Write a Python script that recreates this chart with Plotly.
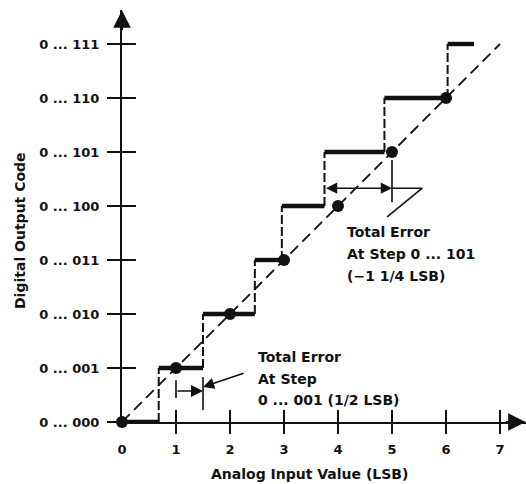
import plotly.graph_objects as go

# Output codes on the vertical axis
codes = [0, 1, 2, 3, 4, 5, 6, 7]
code_labels = ["0 ... 000", "0 ... 001", "0 ... 010", "0 ... 011",
               "0 ... 100", "0 ... 101", "0 ... 110", "0 ... 111"]

# Analog input ticks (LSB)
input_ticks = [0, 1, 2, 3, 4, 5, 6, 7]
input_labels = ["0", "1", "2", "3", "4", "5", "6", "7"]

# Actual code transitions (LSB): code k -> k + 1
transitions = [0.68, 1.5, 2.46, 2.96, 3.75, 4.86, 6.03]
last_code_end = 6.52

# Ideal transfer line and ideal code centres
ideal_x = [0, 7]
ideal_y = [0, 7]
centre_x = [0, 1, 2, 3, 4, 5, 6]
centre_y = [0, 1, 2, 3, 4, 5, 6]

# Total error at the two annotated steps (LSB)
err_step1 = 0.5     # step 0 ... 001
err_step5 = -1.25   # step 0 ... 101

INK = "#111111"
FONT = "DejaVu Sans"

# Figure geometry: 54 px per LSB on both axes
W, H = 526, 484
L, R, T, B = 122, 0, 10, 62
PX = 54.0
PLOT_W = W - L - R
PLOT_H = H - T - B
x_max = PLOT_W / PX
y_max = PLOT_H / PX

# Staircase: thick code levels and dashed risers
starts = [0] + transitions
ends = transitions + [last_code_end]
hx, hy = [], []
for k, (s, e) in enumerate(zip(starts, ends)):
    hx += [s, e, None]
    hy += [codes[k], codes[k], None]
vx, vy = [], []
for k, t in enumerate(transitions):
    vx += [t, t, None]
    vy += [codes[k], codes[k + 1], None]

fig = go.Figure()

fig.add_trace(go.Scatter(
    x=ideal_x, y=ideal_y, mode="lines",
    line=dict(color=INK, width=1.8, dash="11px,6px"),
    cliponaxis=False, hoverinfo="skip", showlegend=False))

fig.add_trace(go.Scatter(
    x=vx, y=vy, mode="lines",
    line=dict(color=INK, width=2, dash="9px,3px"),
    cliponaxis=False, hoverinfo="skip", showlegend=False))

fig.add_trace(go.Scatter(
    x=hx, y=hy, mode="lines",
    line=dict(color=INK, width=4.4),
    cliponaxis=False, hoverinfo="skip", showlegend=False))

fig.add_trace(go.Scatter(
    x=centre_x, y=centre_y, mode="markers",
    marker=dict(color=INK, size=12, line=dict(width=0)),
    cliponaxis=False, hoverinfo="skip", showlegend=False))

# Error marker at step 0 ... 001: from the code centre to the transition
e1_lo, e1_hi = centre_x[1], centre_x[1] + err_step1
e1_y = 0.574
mx = [e1_lo, e1_lo, None, e1_hi, e1_hi, None]
my = [e1_y - 0.13, e1_y + 0.2, None, e1_y - 0.35, e1_y + 0.26, None]

# Error marker at step 0 ... 101: from the transition to the code centre
e5_hi = centre_x[5]
e5_lo = centre_x[5] + err_step5
e5_y = 4.33
mx += [e5_hi, e5_hi, None, e5_hi, e5_hi + 0.56, e5_hi - 0.09]
my += [e5_y - 0.26, e5_y + 0.52, None, e5_y, e5_y, e5_y - 0.53]

fig.add_trace(go.Scatter(
    x=mx, y=my, mode="lines",
    line=dict(color=INK, width=1.6),
    cliponaxis=False, hoverinfo="skip", showlegend=False))

# Dummy traces that carry the overlay tick axes
fig.add_trace(go.Scatter(x=ideal_x, y=ideal_y, xaxis="x2", mode="lines",
                         line=dict(width=0), hoverinfo="skip", showlegend=False))
fig.add_trace(go.Scatter(x=ideal_x, y=ideal_y, xaxis="x3", mode="lines",
                         line=dict(width=0), hoverinfo="skip", showlegend=False))
fig.add_trace(go.Scatter(x=ideal_x, y=ideal_y, yaxis="y2", mode="lines",
                         line=dict(width=0), hoverinfo="skip", showlegend=False))

annotations = []


def arrow(x, y, ax, ay, size=1.4, width=1.6, side="end"):
    annotations.append(dict(
        x=x, y=y, ax=ax, ay=ay, xref="x", yref="y", axref="x", ayref="y",
        text="", showarrow=True, arrowhead=2, startarrowhead=2,
        arrowside=side, arrowsize=size, startarrowsize=size,
        arrowwidth=width, arrowcolor=INK, standoff=0, startstandoff=0))


# Axis arrowheads
arrow(x_max - 0.005, 0, x_max - 0.4, 0, size=1.6, width=2.2)
arrow(0, y_max - 0.005, 0, y_max - 0.4, size=1.6, width=2.2)

# Error arrows
arrow(e1_hi, e1_y, e1_lo, e1_y, size=1.5)
arrow(e5_hi, e5_y, e5_lo, e5_y, size=1.4, side="end+start")
# Leader to the step 0 ... 001 note
arrow(e1_hi, 0.65, 2.28, 0.91, size=1.4)


def text(x, y, s):
    annotations.append(dict(
        x=x, y=y, xref="x", yref="y", text=s, showarrow=False,
        xanchor="left", yanchor="middle",
        font=dict(family=FONT, size=14, color=INK, weight="bold")))


for i, s in enumerate(["Total Error", "At Step", "0 ... 001 (1/2 LSB)"]):
    text(2.48, 1.2 - i * 0.395, s)
for i, s in enumerate(["Total Error", "At Step 0 ... 101", "(\u22121 1/4 LSB)"]):
    text(4.13, 3.52 - i * 0.405, s)

# Axis titles (paper coordinates are relative to the plot area)
annotations.append(dict(
    x=(309 - L) / PLOT_W, y=(H - B - 474) / PLOT_H,
    xref="paper", yref="paper",
    text="Analog Input Value (LSB)", showarrow=False,
    xanchor="center", yanchor="middle",
    font=dict(family=FONT, size=14, color=INK, weight="bold")))
annotations.append(dict(
    x=(20 - L) / PLOT_W, y=(H - B - 231) / PLOT_H,
    xref="paper", yref="paper", textangle=-90,
    text="Digital Output Code", showarrow=False,
    xanchor="center", yanchor="middle",
    font=dict(family=FONT, size=14, color=INK, weight="bold")))

tickfont = dict(family=FONT, size=13, color=INK, weight="bold")

fig.update_layout(
    width=W, height=H,
    margin=dict(l=L, r=R, t=T, b=B, pad=0),
    paper_bgcolor="white", plot_bgcolor="white",
    showlegend=False,
    annotations=annotations,
    xaxis=dict(range=[0, x_max], showgrid=False, zeroline=False,
               showline=True, linewidth=2.2, linecolor=INK,
               tickmode="array", tickvals=input_ticks, ticktext=input_labels,
               ticks="", tickfont=tickfont, ticklabelstandoff=14),
    xaxis2=dict(range=[0, x_max], overlaying="x", anchor="y", side="bottom",
                showgrid=False, zeroline=False, showline=False,
                tickmode="array", tickvals=input_ticks[1:],
                ticks="outside", ticklen=11, tickwidth=2, tickcolor=INK,
                showticklabels=False),
    xaxis3=dict(range=[0, x_max], overlaying="x", anchor="y", side="bottom",
                showgrid=False, zeroline=False, showline=False,
                tickmode="array", tickvals=input_ticks[1:],
                ticks="inside", ticklen=12, tickwidth=2, tickcolor=INK,
                showticklabels=False),
    yaxis=dict(range=[0, y_max], showgrid=False, zeroline=False,
               showline=True, linewidth=2.2, linecolor=INK,
               tickmode="array", tickvals=codes, ticktext=code_labels,
               ticks="outside", ticklen=13, tickwidth=2, tickcolor=INK,
               tickfont=tickfont, ticklabelstandoff=5),
    yaxis2=dict(range=[0, y_max], overlaying="y", anchor="x", side="left",
                showgrid=False, zeroline=False, showline=False,
                tickmode="array", tickvals=codes,
                ticks="inside", ticklen=14, tickwidth=2, tickcolor=INK,
                showticklabels=False),
)

fig.write_html("out.html")
